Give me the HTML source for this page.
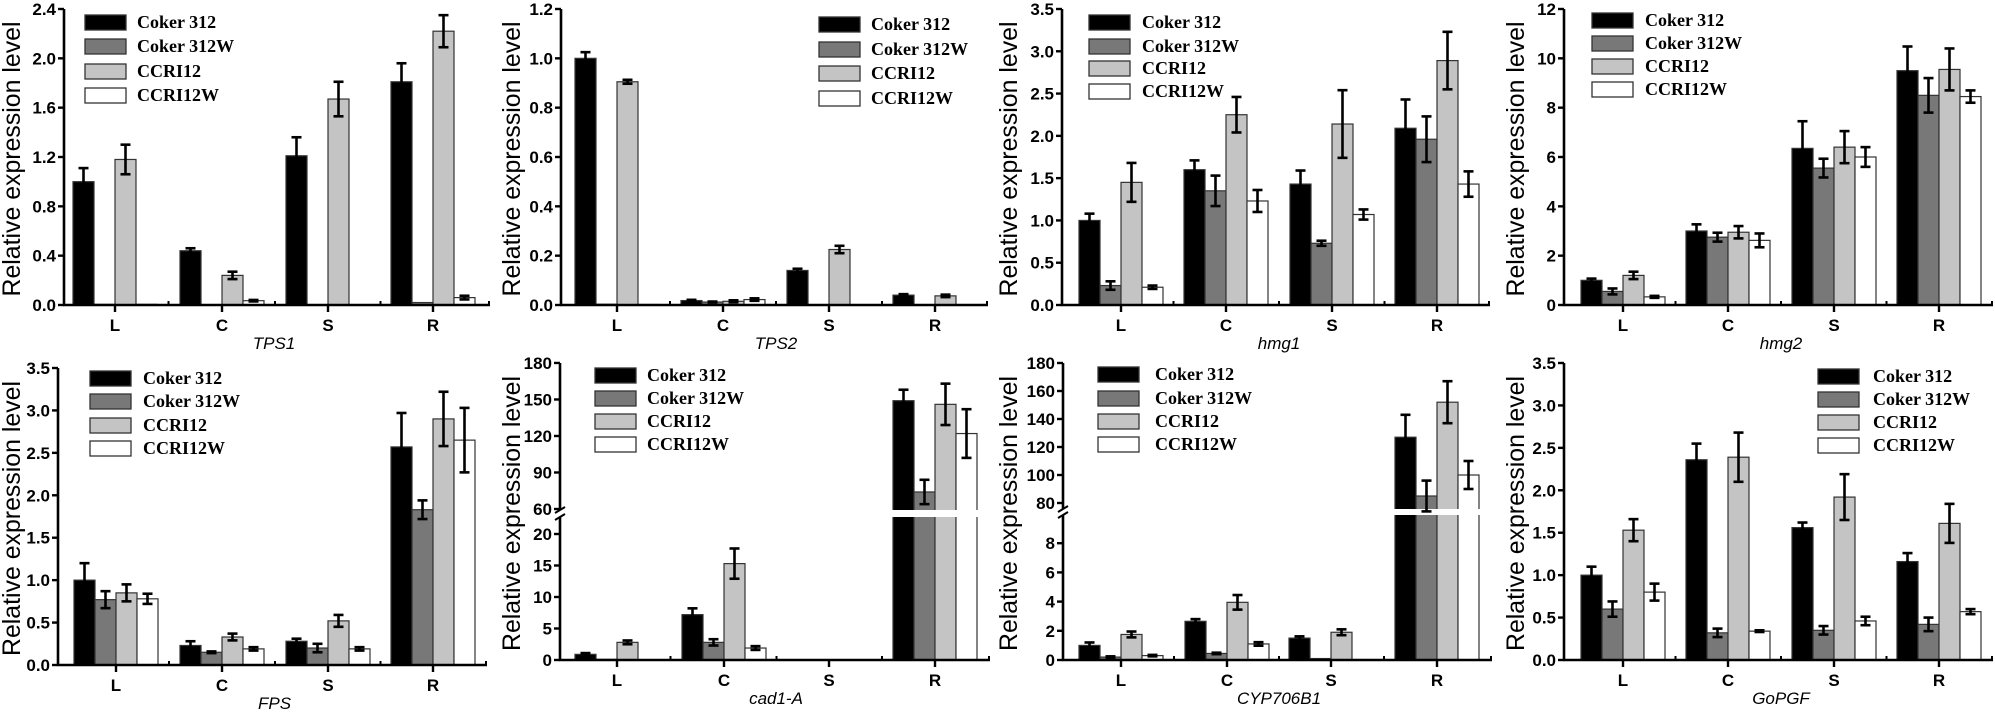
<!DOCTYPE html>
<html><head><meta charset="utf-8"><style>
html,body{margin:0;padding:0;background:#fff;}
svg{display:block;}
</style></head><body>
<svg id="s" width="1995" height="712" xmlns="http://www.w3.org/2000/svg"></svg>
<script>
const S=document.getElementById('s');
let h='';
const cols=['#000','#787878','#c4c4c4','#fff'];
const names=['Coker 312','Coker 312W','CCRI12','CCRI12W'];
function lin(y0,yT,max){return v=>y0-v/max*(y0-yT);}
function brk(y0,lowPx,lowV0,upY,upPx,upV0){return v=>v<=lowV0?y0-v*lowPx:upY-(v-upV0)*upPx;}
function panel(p){
  const {ax,x1,c,y0,yT,map,ticks,data,lg,title,ytx}=p;
  // bars
  data.forEach((g,gi)=>{
    g.forEach((d,i)=>{
      const x=c[gi]-42+i*21, yv=map(d[0]);
      if(y0-yv>0.3) h+=`<rect x="${x}" y="${yv}" width="21" height="${y0-yv}" fill="${cols[i]}" stroke="#333" stroke-width="1.2"/>`;
    });
  });
  if(p.gap){ h+=`<rect x="${ax+2}" y="${p.gap[0]}" width="${x1-ax}" height="${p.gap[1]-p.gap[0]}" fill="#fff"/>`; }
  data.forEach((g,gi)=>{
    g.forEach((d,i)=>{
      if(d[1]<=0) return;
      const cx=c[gi]-42+i*21+10.5, a=map(d[0]+d[1]), b=map(Math.max(0,d[0]-d[1]));
      h+=`<g stroke="#000" stroke-width="2.6"><line x1="${cx}" y1="${a}" x2="${cx}" y2="${b}"/><line x1="${cx-5}" y1="${a}" x2="${cx+5}" y2="${a}"/><line x1="${cx-5}" y1="${b}" x2="${cx+5}" y2="${b}"/></g>`;
    });
  });
  // axes
  if(p.gap){
    h+=`<line x1="${ax}" y1="${y0}" x2="${ax}" y2="${p.gap[1]}" stroke="#000" stroke-width="2.6"/>`;
    h+=`<line x1="${ax}" y1="${p.gap[0]}" x2="${ax}" y2="${yT}" stroke="#000" stroke-width="2.6"/>`;
    h+=`<line x1="${ax-5}" y1="${p.gap[0]+3}" x2="${ax+5}" y2="${p.gap[0]-3}" stroke="#000" stroke-width="2"/>`;
    h+=`<line x1="${ax-5}" y1="${p.gap[1]+3}" x2="${ax+5}" y2="${p.gap[1]-3}" stroke="#000" stroke-width="2"/>`;
  } else h+=`<line x1="${ax}" y1="${y0}" x2="${ax}" y2="${yT}" stroke="#000" stroke-width="2.6"/>`;
  h+=`<line x1="${ax-1}" y1="${y0}" x2="${x1}" y2="${y0}" stroke="#000" stroke-width="2.6"/>`;
  ticks.forEach(t=>{const y=map(t[0]);
    h+=`<line x1="${ax-6}" y1="${y}" x2="${ax}" y2="${y}" stroke="#000" stroke-width="2.4"/>`;
    h+=`<text x="${ax-8}" y="${y+6}" text-anchor="end" font-family="Liberation Sans,Arial,sans-serif" font-weight="bold" font-size="17">${t[1]}</text>`;});
  const L=['L','C','S','R'];
  c.forEach((cx,i)=>{
    h+=`<line x1="${cx}" y1="${y0}" x2="${cx}" y2="${y0+7}" stroke="#000" stroke-width="2.4"/>`;
    h+=`<text x="${cx}" y="${y0+26}" text-anchor="middle" font-family="Liberation Sans,Arial,sans-serif" font-weight="bold" font-size="17">${L[i]}</text>`;
    if(i>0){const m=(c[i-1]+cx)/2; h+=`<line x1="${m}" y1="${y0}" x2="${m}" y2="${y0-4}" stroke="#000" stroke-width="2"/>`;}
  });
  h+=`<line x1="${x1-1}" y1="${y0}" x2="${x1-1}" y2="${y0-4}" stroke="#000" stroke-width="2"/>`;
  h+=`<text x="${(c[0]+c[3])/2}" y="${y0+44}" text-anchor="middle" font-family="Liberation Sans,Arial,sans-serif" font-style="italic" font-size="17">${title}</text>`;
  const yc=(y0+yT)/2+2;
  h+=`<text transform="translate(${ytx+9},${yc}) rotate(-90)" text-anchor="middle" font-family="Liberation Sans,Arial,sans-serif" font-size="25" textLength="275" lengthAdjust="spacingAndGlyphs">Relative expression level</text>`;
  lg.t.forEach((ty,i)=>{
    h+=`<rect x="${lg.x}" y="${ty}" width="41" height="15" fill="${cols[i]}" stroke="#333" stroke-width="1.3"/>`;
    h+=`<text x="${lg.tx}" y="${ty+13}" font-family="Liberation Serif,Times New Roman,serif" font-weight="bold" font-size="18">${names[i]}</text>`;
  });
}
function tk(a,b,s,dec){const r=[];for(let v=a;v<=b+1e-9;v+=s)r.push([v,v.toFixed(dec)]);return r;}
const top0=305,topT=9,bot0=660,botT=363;
panel({ax:64,x1:490,c:[115,222,328,433],y0:top0,yT:topT,map:lin(top0,topT,2.4),ticks:tk(0,2.4,0.4,1),title:'TPS1',ytx:11,
 lg:{x:85,t:[15,39,64,88],tx:137},
 data:[[[1.0,.11],[0.005,0],[1.18,.12],[0.005,0]],[[0.44,.02],[0,0],[0.24,.03],[0.035,.006]],[[1.21,.15],[0,0],[1.67,.14],[0,0]],[[1.81,.15],[0.02,0],[2.22,.13],[0.06,.015]]]});
panel({ax:561,x1:988,c:[617,723,829,935],y0:top0,yT:topT,map:lin(top0,topT,1.2),ticks:tk(0,1.2,0.2,1),title:'TPS2',ytx:511,
 lg:{x:819,t:[17,42,66,91],tx:871},
 data:[[[1.0,.025],[0.003,0],[0.905,.008],[0.002,0]],[[.018,.003],[.012,.002],[.015,.004],[.022,.005]],[[.14,.007],[0,0],[.225,.015],[0,0]],[[.04,.004],[0,0],[.037,.005],[0,0]]]});
panel({ax:1062,x1:1490,c:[1121,1226,1332,1437],y0:top0,yT:topT,map:lin(top0,topT,3.5),ticks:tk(0,3.5,0.5,1),title:'hmg1',ytx:1008,
 lg:{x:1089,t:[15,39,61,84],tx:1142},
 data:[[[1.0,.08],[.23,.05],[1.45,.23],[.21,.02]],[[1.6,.11],[1.35,.18],[2.25,.21],[1.23,.13]],[[1.43,.16],[.73,.03],[2.14,.4],[1.07,.06]],[[2.09,.34],[1.96,.27],[2.89,.34],[1.43,.15]]]});
panel({ax:1564,x1:1993,c:[1623,1728,1834,1939],y0:top0,yT:topT,map:lin(top0,topT,12),ticks:tk(0,12,2,0),title:'hmg2',ytx:1515,
 lg:{x:1592,t:[13,36,59,82],tx:1645},
 data:[[[1.0,.07],[.55,.12],[1.2,.15],[.33,.04]],[[3.0,.27],[2.75,.18],[2.95,.25],[2.62,.28]],[[6.35,1.1],[5.55,.38],[6.4,.65],[6.0,.4]],[[9.5,.98],[8.5,.7],[9.55,.85],[8.45,.25]]]});
panel({ax:58,x1:487,c:[116,222,328,433],y0:665,yT:368,map:lin(665,368,3.5),ticks:tk(0,3.5,0.5,1),title:'FPS',ytx:11,
 lg:{x:90,t:[371,394,418,441],tx:143},
 data:[[[1.0,.2],[.77,.1],[.85,.1],[.78,.06]],[[.23,.05],[.15,.01],[.33,.04],[.19,.02]],[[.28,.03],[.2,.05],[.52,.07],[.19,.02]],[[2.57,.4],[1.83,.11],[2.9,.32],[2.65,.38]]]});
const m6=brk(bot0,6.3,22,509,1.217,60);
panel({ax:560,x1:990,c:[617,724,829,935],y0:bot0,yT:botT,map:m6,gap:[510,517],
 ticks:[[0,'0'],[5,'5'],[10,'10'],[15,'15'],[20,'20'],[60,'60'],[90,'90'],[120,'120'],[150,'150'],[180,'180']],title:'cad1-A',ytx:511,
 lg:{x:595,t:[368,391,414,437],tx:647},
 data:[[[0.9,.2],[0.1,0],[2.8,.3],[0.05,0]],[[7.2,1.0],[2.8,.5],[15.3,2.4],[1.9,.3]],[[.05,0],[.05,0],[.05,0],[.05,0]],[[149,9],[74,10],[146,17],[122,20]]]});
const m7=brk(bot0,14.6,10,503,1.4,80);
panel({ax:1063,x1:1492,c:[1121,1227,1331,1437],y0:bot0,yT:botT,map:m7,gap:[509,515],
 ticks:[[0,'0'],[2,'2'],[4,'4'],[6,'6'],[8,'8'],[80,'80'],[100,'100'],[120,'120'],[140,'140'],[160,'160'],[180,'180']],title:'CYP706B1',ytx:1008,
 lg:{x:1098,t:[367,391,414,437],tx:1155},
 data:[[[1.0,.2],[.2,.05],[1.75,.2],[.3,.05]],[[2.65,.15],[.45,.05],[3.95,.5],[1.1,.12]],[[1.5,.12],[.1,0],[1.9,.2],[0.03,0]],[[127,16],[85,11],[152,15],[100,10]]]});
panel({ax:1564,x1:1993,c:[1623,1728,1834,1939],y0:bot0,yT:botT,map:lin(bot0,botT,3.5),ticks:tk(0,3.5,0.5,1),title:'GoPGF',ytx:1515,
 lg:{x:1818,t:[369,392,415,438],tx:1873},
 data:[[[1.0,.1],[.6,.09],[1.53,.13],[.8,.1]],[[2.36,.19],[.32,.05],[2.39,.29],[.34,.01]],[[1.56,.06],[.35,.05],[1.92,.27],[.46,.05]],[[1.16,.1],[.42,.08],[1.61,.23],[.57,.03]]]});
S.innerHTML=h;
</script>
</body></html>
